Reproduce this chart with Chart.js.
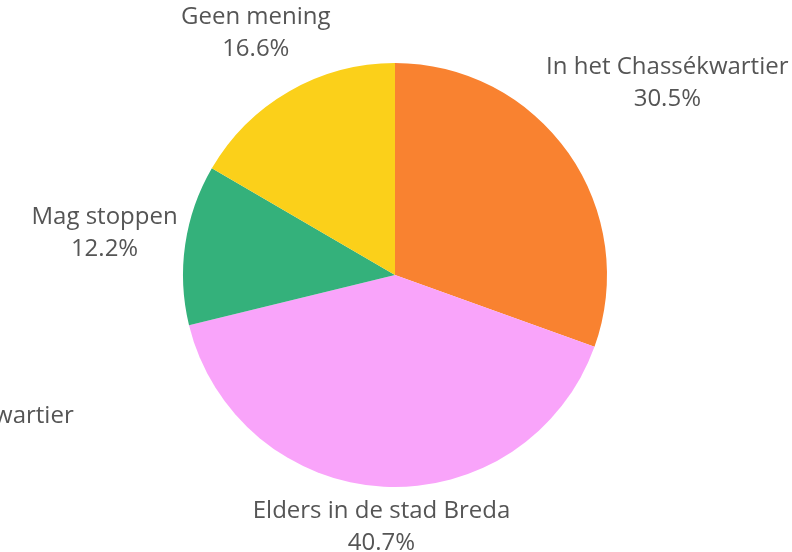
<!DOCTYPE html>
<html>
<head>
<meta charset="utf-8">
<script src="https://cdn.jsdelivr.net/npm/chart.js@4/dist/chart.umd.min.js"></script>
<style>
  html, body { margin: 0; padding: 0; background: #fff; }
  #wrap { width: 792px; height: 552px; }
</style>
</head>
<body>
<div id="wrap"><canvas id="myChart"></canvas></div>
<script>
// data
const categories = ['In het Chassékwartier', 'Elders in de stad Breda', 'Buiten het Chassékwartier', 'Mag stoppen', 'Geen mening'];
const shares = [30.5, 40.7, 0, 12.2, 16.6];
const sliceColors = ['#F98230', '#F9A4FA', '#E05C5C', '#34B17B', '#FBD01A'];

// the empty slice's label got pushed away from its neighbours in the original
const labelNudge = { 2: [-112, 70] };

const outsideLabels = {
  id: 'outsideLabels',
  afterDatasetsDraw(chart) {
    const ctx = chart.ctx;
    const arcs = chart.getDatasetMeta(0).data;
    const lh = 32;
    ctx.save();
    ctx.font = '24px "Open Sans"';
    ctx.fillStyle = '#555';
    ctx.textAlign = 'center';
    ctx.textBaseline = 'middle';
    arcs.forEach((arc, i) => {
      const p = arc.getProps(['x', 'y', 'startAngle', 'endAngle', 'outerRadius'], true);
      const mid = (p.startAngle + p.endAngle) / 2;
      const ux = Math.cos(mid), uy = Math.sin(mid);
      const line1 = categories[i];
      const line2 = shares[i].toFixed(1) + '%';
      const w = Math.max(ctx.measureText(line1).width, ctx.measureText(line2).width) / 2;
      const dist = p.outerRadius + 5 + w * Math.abs(ux) + (lh - 3) * Math.abs(uy);
      let cx = p.x + ux * dist;
      let cy = p.y + uy * dist;
      if (labelNudge[i]) {
        cx += labelNudge[i][0];
        cy += labelNudge[i][1];
      }
      ctx.fillText(line1, cx, cy - lh / 2);
      ctx.fillText(line2, cx, cy + lh / 2);
    });
    ctx.restore();
  }
};

var ctx = document.getElementById('myChart');
var myChart = new Chart(ctx, {
  type: 'pie',
  data: {
    labels: categories,
    datasets: [{
      data: shares,
      backgroundColor: sliceColors,
      borderWidth: 0
    }]
  },
  options: {
    responsive: true,
    maintainAspectRatio: false,
    animation: false,
    layout: { padding: { top: 63, bottom: 65, left: 183, right: 185 } },
    plugins: {
      legend: { display: false },
      tooltip: { enabled: false }
    }
  },
  plugins: [outsideLabels]
});
</script>
</body>
</html>
